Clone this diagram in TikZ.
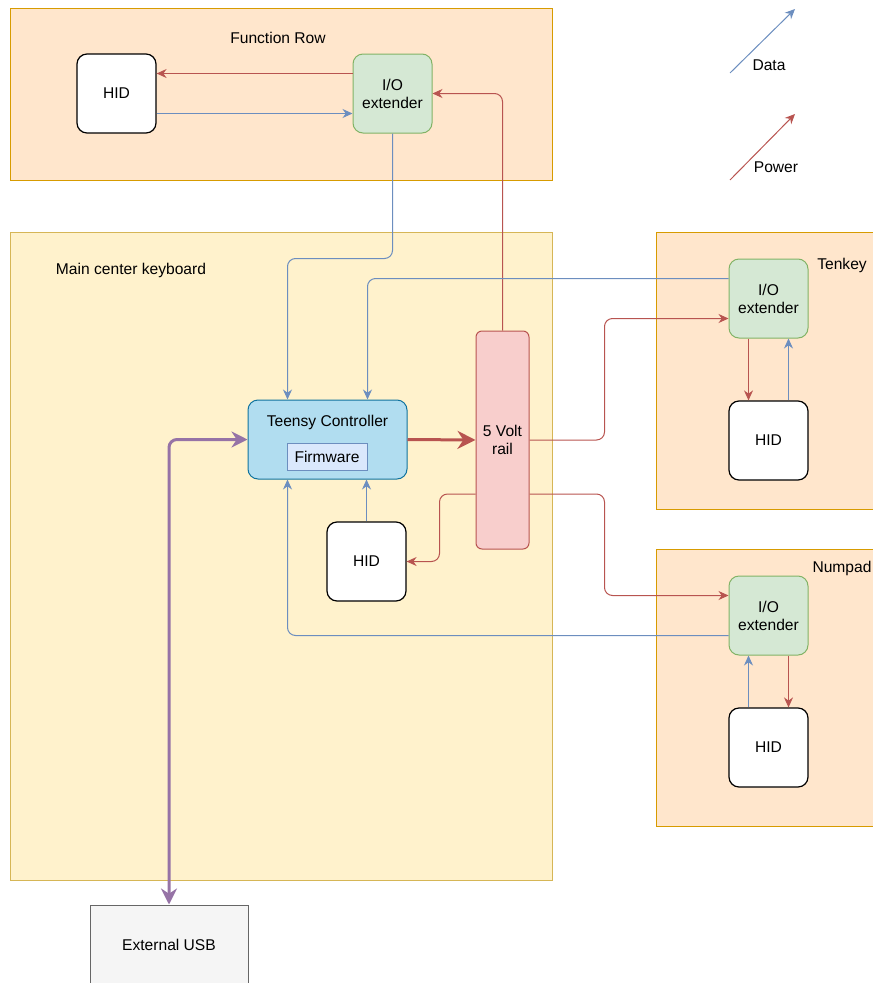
\documentclass[tikz,border=0pt]{standalone}
\usepackage{fontspec}
\setmainfont{Liberation Sans}
\usepackage{tikz}
\usetikzlibrary{positioning}
\usetikzlibrary{arrows.meta}

\definecolor{datablue}{HTML}{6C8EBF}
\definecolor{powerred}{HTML}{B85450}
\definecolor{usbpurple}{HTML}{9673A6}
\definecolor{peachfill}{HTML}{FFE6CC}
\definecolor{peachline}{HTML}{D79B00}
\definecolor{yellowfill}{HTML}{FFF2CC}
\definecolor{yellowline}{HTML}{D6B656}
\definecolor{greenfill}{HTML}{D5E8D4}
\definecolor{greenline}{HTML}{82B366}
\definecolor{tealfill}{HTML}{B1DDF0}
\definecolor{tealline}{HTML}{10739E}
\definecolor{lightblue}{HTML}{DAE8FC}
\definecolor{pinkfill}{HTML}{F8CECC}
\definecolor{greyfill}{HTML}{F5F5F5}
\definecolor{greyline}{HTML}{666666}

\tikzset{
  txt/.style={font=\fontsize{15.6}{18}\selectfont, align=center},
  hidbox/.style={txt, draw=black, line width=1.2pt, fill=white, rounded corners=10pt,
    minimum width=79pt, minimum height=79pt},
  iobox/.style={txt, draw=greenline, line width=1pt, fill=greenfill, rounded corners=10pt,
    minimum width=79pt, minimum height=79pt},
  data/.style={draw=datablue, line width=1pt, rounded corners=8pt,
    -{Stealth[length=10pt,width=9pt]}},
  power/.style={draw=powerred, line width=1pt, rounded corners=8pt,
    -{Stealth[length=10pt,width=9pt]}}
}

\begin{document}
\begin{tikzpicture}[x=1pt,y=-1pt]
  \useasboundingbox (0,0) rectangle (873,983);

  % group boxes
  \draw[fill=peachfill, draw=peachline, line width=1pt] (10,8) rectangle (552,180);
  \draw[fill=yellowfill, draw=yellowline, line width=1pt] (10,232) rectangle (552,880);
  \draw[fill=peachfill, draw=peachline, line width=1pt] (656,232) rectangle (900,509);
  \draw[fill=peachfill, draw=peachline, line width=1pt] (656,549) rectangle (900,826);

  \node[txt] at (278,38) (frlabel) {Function Row};
  \node[txt] at (131,270) (mainlabel) {Main center keyboard};
  \node[txt] at (842,265) (tklabel) {Tenkey};
  \node[txt] at (842,568) (nplabel) {Numpad};

  % function row
  \node[hidbox] at (116.5,93.5) (frhid) {HID};
  \node[iobox] at (392.5,93.5) (frio) {I/O\\extender};

  % main keyboard
  \node[txt, draw=tealline, line width=1pt, fill=tealfill, rounded corners=10pt,
    minimum width=159pt, minimum height=79pt] at (327.5,439.5) (teensy) {};
  \node[txt] at (327.5,422) (teensylabel) {Teensy Controller};
  \node[txt, draw=datablue, line width=1pt, fill=lightblue,
    minimum width=80pt, minimum height=27pt] at (327,456.5) (firmware) {Firmware};
  \node[txt, draw=powerred, line width=1pt, fill=pinkfill, rounded corners=6pt,
    minimum width=53pt, minimum height=218pt] at (502.5,440) (rail) {5 Volt\\rail};
  \node[hidbox] at (366.5,561.5) (mhid) {HID};

  % tenkey and numpad
  \node[iobox] at (768.5,298.5) (tkio) {I/O\\extender};
  \node[hidbox] at (768.5,440.5) (tkhid) {HID};
  \node[iobox] at (768.5,615.5) (npio) {I/O\\extender};
  \node[hidbox] at (768.5,747.5) (nphid) {HID};

  \node[txt, draw=greyline, line width=1pt, fill=greyfill,
    minimum width=158pt, minimum height=80pt] at (169,945) (usb) {External USB};

  % function row links
  \draw[power] ([yshift=20pt]frio.west) -- ([yshift=20pt]frhid.east);
  \draw[data] ([yshift=-20pt]frhid.east) -- ([yshift=-20pt]frio.west);
  \draw[power] (rail.north) |- (frio.east);
  \draw[data] (frio.south) -- ++(0,125) -| ([xshift=-40pt]teensy.north);

  % main links
  \draw[draw=powerred, line width=3pt, -{Stealth[length=18pt,width=18pt]}] (teensy.east) -- (rail.west);
  \draw[data] (mhid.north) -- (mhid.north |- teensy.south);
  \draw[power] ([yshift=-54pt]rail.west) -- ++(-36,0) |- (mhid.east);
  \draw[draw=usbpurple, line width=3pt, rounded corners=8pt,
    {Stealth[length=16pt,width=16pt]}-{Stealth[length=16pt,width=16pt]}] (usb.north) |- (teensy.west);

  % tenkey links
  \draw[data] ([yshift=20pt]tkio.west) -| ([xshift=40pt]teensy.north);
  \draw[power] (rail.east) -- ++(75,0) |- ([yshift=-20pt]tkio.west);
  \draw[power] ([xshift=-20pt]tkio.south) -- ([xshift=-20pt]tkhid.north);
  \draw[data] ([xshift=20pt]tkhid.north) -- ([xshift=20pt]tkio.south);

  % numpad links
  \draw[power] ([yshift=-54pt]rail.east) -- ++(75,0) |- ([yshift=20pt]npio.west);
  \draw[data] ([yshift=-20pt]npio.west) -| ([xshift=-40pt]teensy.south);
  \draw[data] ([xshift=-20pt]nphid.north) -- ([xshift=-20pt]npio.south);
  \draw[power] ([xshift=20pt]npio.south) -- ([xshift=20pt]nphid.north);

  % legend
  \coordinate (data0) at (730,73);
  \coordinate (data1) at (795,9);
  \draw[data] (data0) -- (data1);
  \node[txt] at (769,65) (datalabel) {Data};
  \coordinate (power0) at (730,180);
  \coordinate (power1) at (795,114);
  \draw[power] (power0) -- (power1);
  \node[txt] at (776,167) (powerlabel) {Power};
\end{tikzpicture}
\end{document}
